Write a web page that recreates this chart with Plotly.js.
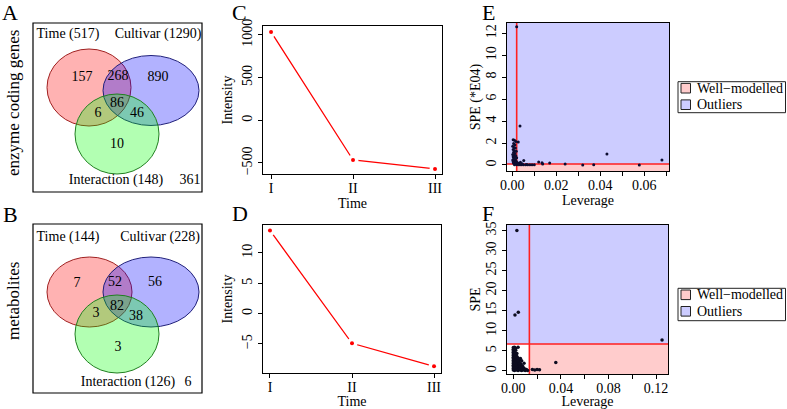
<!DOCTYPE html>
<html><head><meta charset="utf-8">
<script src="https://cdn.plot.ly/plotly-3.0.1.min.js"></script>
<style>html,body{margin:0;padding:0;background:#fff}#chart{width:787px;height:409px}</style>
</head><body><div id="chart"></div>
<script>
// ================= DATA =================
const setNames = ['Time', 'Cultivar', 'Interaction'];
// region order: Time only, Cultivar only, Interaction only, T∩C, T∩I, C∩I, T∩C∩I
const genesSetSizes = [517, 1290, 148];
const genesRegionCounts = [157, 890, 10, 268, 6, 46, 86];
const genesOutside = 361;
const metabSetSizes = [144, 228, 126];
const metabRegionCounts = [7, 56, 3, 52, 3, 38, 82];
const metabOutside = 6;
const rowLabels = ['enzyme coding genes', 'metabolites'];
const panelLetters = ['A', 'B', 'C', 'D', 'E', 'F'];

const timeLabels = ['I', 'II', 'III'];
const genesIntensity = [1035, -465, -570];
const metabIntensity = [13.7, -4.9, -8.7];
const intensityTicksC = [-500, 0, 500, 1000];
const intensityTicksD = [-5, 0, 5, 10];

const legendLabels = ['Well\u2212modelled', 'Outliers'];
const genesLevThreshold = 0.002;
const genesSpeThreshold = 0.09;
const metabLevThreshold = 0.0135;
const metabSpeThreshold = 6.7;

const genesLevTicks = [0, 0.01, 0.02, 0.03, 0.04, 0.05, 0.06, 0.07];
const genesLevTickText = ['0.00', '', '0.02', '', '0.04', '', '0.06', ''];
const genesSpeTicks = [0, 2, 4, 6, 8, 10, 12];
const metabLevTicks = [0, 0.02, 0.04, 0.06, 0.08, 0.10, 0.12];
const metabLevTickText = ['0.00', '', '0.04', '', '0.08', '', '0.12'];
const metabSpeTicks = [0, 5, 10, 15, 20, 25, 30, 35];

const genesLeverage = [0.0004,0.0010,0.0016,0.0006,0.0012,0.0002,0.0008,0.0014,0.0004,0.0010,
  0.0018,0.0006,0.0012,0.0002,0.0008,0.0016,0.0004,0.0010,0.0020,0.0006,
  0.0014,0.0002,0.0008,0.0018,0.0004,0.0012,0.0024,0.0006,0.0016,0.0030,
  0.0027,0.0035,0.0020,
  0.0010,0.0020,0.0030,0.0040,0.0050,0.0060,0.0070,0.0080,0.0090,0.0100,
  0.0037,0.0045,0.0052,0.0065,
  0.0120,0.0135,0.0138,0.0170,0.0240,0.0320,0.0370,0.0430,0.0577,0.0680];
const genesSPE = [2.30,2.25,2.15,1.95,1.85,1.70,1.60,1.55,1.40,1.30,
  1.25,1.15,1.05,0.95,0.90,0.85,0.75,0.70,0.65,0.55,
  0.50,0.45,0.40,0.35,0.30,0.25,0.20,0.15,0.12,0.10,
  2.10,3.55,12.60,
  0.02,0.01,0.03,0.02,0.01,0.02,0.01,0.02,0.01,0.02,
  0.25,0.10,0.40,0.05,
  0.28,0.20,0.08,0.18,0.08,0.00,0.02,1.00,0.00,0.45];

const metabLeverage = [
  0,0,0,0,0,0,0,0,0,0,0,0,0,0,0,
  0.001,0.001,0.001,0.001,0.001,0.001,0.001,0.001,0.001,0.001,0.001,0.001,0.001,0.001,0.001,
  0.002,0.002,0.002,0.002,0.002,0.002,0.002,0.002,0.002,0.002,0.002,0.002,0.002,
  0.003,0.003,0.003,0.003,0.003,0.003,0.003,0.003,0.003,0.003,
  0.004,0.004,0.004,0.004,0.004,0.004,0.004,0.004,0.004,
  0.005,0.005,0.005,0.005,0.005,0.005,
  0.006,0.006,0.006,0.006,0.006,0.006,
  0.007,0.007,0.007,0.007,0.007,
  0.008,0.008,0.008,
  0.009,0.009,0.009,
  0.010,0.010,
  0.011,
  0.012,
  0.016,0.018,0.020,0.022,0.0357,0.0014,0.0042,0.003,0.125];
const metabSPE = [
  0.2,0.6,1.0,1.4,1.8,2.2,2.6,3.0,3.4,3.8,4.2,4.6,5.0,5.4,5.8,
  0.1,0.5,0.9,1.3,1.7,2.1,2.5,2.9,3.3,3.7,4.1,4.5,4.9,5.3,5.9,
  0.3,0.7,1.1,1.5,1.9,2.3,2.7,3.1,3.5,4.0,4.4,5.1,5.6,
  0.2,0.6,1.0,1.4,1.8,2.2,2.6,3.0,3.6,4.3,
  0.1,0.5,0.9,1.3,1.7,2.1,2.5,3.2,5.9,
  0.3,0.7,1.1,1.5,1.9,2.6,
  0.2,0.6,1.0,1.4,1.8,3.1,
  0.1,0.5,0.9,1.3,2.5,
  0.3,0.7,1.1,
  0.2,0.6,1.9,
  0.1,0.4,
  0.3,
  0.1,
  0.3,0.2,0.3,0.25,2.1,13.9,14.6,35.0,7.7];

// ================= LAYOUT HELPERS =================
const W = 787, H = 409;
const FONT = "'Liberation Serif', 'Times New Roman', serif";
const px = x => x / W;
const py = y => 1 - y / H;
const timeX = timeLabels.map((_, i) => i + 1);

// Venn geometry (pixel space): circles [cx, cy, rx, ry] and text anchors
const vennGeom = [
  { box: [33, 23, 202, 192],
    circles: [[89, 87.5, 42, 38.5], [151, 90.5, 48, 35], [117, 134, 42, 40]],
    countPos: [[82, 77], [158, 77], [117, 144], [118, 76], [98, 113], [137, 113], [117, 103]],
    labelPos: [[68, 34], [158, 34], [116, 180]], outsidePos: [190, 180] },
  { box: [33, 224, 202, 393],
    circles: [[89.5, 292, 42.5, 35], [151, 292, 48, 35], [117, 334, 42, 39]],
    countPos: [[77, 283], [155, 282], [118, 347], [115, 282], [96, 313], [136, 316], [117, 306]],
    labelPos: [[68, 237], [160, 237], [128, 382]], outsidePos: [188, 382] }
];
const vennFill = ['rgba(255,0,0,0.3)', 'rgba(0,0,255,0.3)', 'rgba(0,255,0,0.3)'];
const vennEdge = ['#a02020', '#20207a', '#208020'];
const vennData = [
  { sizes: genesSetSizes, counts: genesRegionCounts, outside: genesOutside },
  { sizes: metabSetSizes, counts: metabRegionCounts, outside: metabOutside }
];

const traces = [];
const shapes = [];
const annotations = [];

// ---------- Venn panels ----------
vennData.forEach((vd, k) => {
  const g = vennGeom[k];
  g.circles.forEach((c, i) => {
    shapes.push({ type: 'circle', xref: 'x5', yref: 'y5', layer: 'below',
      x0: c[0] - c[2], x1: c[0] + c[2], y0: c[1] - c[3], y1: c[1] + c[3],
      fillcolor: vennFill[i], line: { color: vennEdge[i], width: 1 } });
  });
  shapes.push({ type: 'rect', xref: 'x5', yref: 'y5', x0: g.box[0], x1: g.box[2], y0: g.box[1], y1: g.box[3],
    line: { color: 'black', width: 1.2 }, fillcolor: 'rgba(0,0,0,0)' });
  const labels = setNames.map((n, i) => n + ' (' + vd.sizes[i] + ')');
  traces.push({ type: 'scatter', mode: 'text', xaxis: 'x5', yaxis: 'y5', hoverinfo: 'skip', showlegend: false,
    x: g.countPos.map(p => p[0]).concat(g.labelPos.map(p => p[0]), [g.outsidePos[0]]),
    y: g.countPos.map(p => p[1]).concat(g.labelPos.map(p => p[1]), [g.outsidePos[1]]),
    text: vd.counts.map(String).concat(labels, [String(vd.outside)]),
    textfont: { family: FONT, size: 14, color: 'black' } });
});
rowLabels.forEach((t, k) => {
  annotations.push({ xref: 'paper', yref: 'paper', x: px(13), y: py(k === 0 ? 103 : 301),
    xanchor: 'center', yanchor: 'middle',
    text: t, showarrow: false, textangle: -90, font: { family: FONT, size: 17, color: 'black' } });
});

// ---------- Intensity panels ----------
[[genesIntensity, 'x', 'y'], [metabIntensity, 'x2', 'y2']].forEach(([vals, xa, ya]) => {
  traces.push({ type: 'scatter', mode: 'lines', x: timeX, y: vals, xaxis: xa, yaxis: ya,
    line: { color: 'red', width: 1.3 }, hoverinfo: 'skip', showlegend: false });
  traces.push({ type: 'scatter', mode: 'markers', x: timeX, y: vals, xaxis: xa, yaxis: ya,
    marker: { color: 'white', size: 11 }, hoverinfo: 'skip', showlegend: false });
  traces.push({ type: 'scatter', mode: 'markers', x: timeX, y: vals, xaxis: xa, yaxis: ya,
    marker: { color: 'red', size: 4 }, showlegend: false });
});

// ---------- SPE / leverage panels ----------
const regionPink = '#ffcccc', regionBlue = '#ccccff';
function diagShapes(xa, ya, xr, yr, levT, speT) {
  shapes.push({ type: 'rect', xref: xa, yref: ya, layer: 'below', x0: xr[0], x1: xr[1], y0: speT, y1: yr[1],
    fillcolor: regionBlue, line: { width: 0 } });
  shapes.push({ type: 'rect', xref: xa, yref: ya, layer: 'below', x0: levT, x1: xr[1], y0: yr[0], y1: speT,
    fillcolor: regionPink, line: { width: 0 } });
  shapes.push({ type: 'line', xref: xa, yref: ya, layer: 'below', x0: levT, x1: levT, y0: yr[0], y1: yr[1],
    line: { color: '#ff2020', width: 1.6 } });
  shapes.push({ type: 'line', xref: xa, yref: ya, layer: 'below', x0: xr[0], x1: xr[1], y0: speT, y1: speT,
    line: { color: '#ff2020', width: 1.6 } });
}
const rangeE = { x: [-0.0024, 0.0712], y: [-0.55, 12.94] };
const rangeF = { x: [-0.0053, 0.130], y: [-0.8, 36.4] };
diagShapes('x3', 'y3', rangeE.x, rangeE.y, genesLevThreshold, genesSpeThreshold);
diagShapes('x4', 'y4', rangeF.x, rangeF.y, metabLevThreshold, metabSpeThreshold);
traces.push({ type: 'scatter', mode: 'markers', x: genesLeverage, y: genesSPE, xaxis: 'x3', yaxis: 'y3',
  marker: { color: '#0c0c30', size: 3 }, showlegend: false });
traces.push({ type: 'scatter', mode: 'markers', x: metabLeverage, y: metabSPE, xaxis: 'x4', yaxis: 'y4',
  marker: { color: '#0c0c20', size: 3.5 }, showlegend: false });

// manual legends (box, swatches, labels)
[[81.7, 112.7], [288.3, 320.7]].forEach(([top, bot]) => {
  shapes.push({ type: 'rect', xref: 'paper', yref: 'paper', x0: px(678), x1: px(785.5), y0: py(bot), y1: py(top),
    fillcolor: 'white', line: { color: '#222', width: 1 } });
  const rowY = [top + 6.5, top + 23];
  [regionPink, regionBlue].forEach((c, i) => {
    shapes.push({ type: 'rect', xref: 'paper', yref: 'paper', x0: px(681), x1: px(690.5),
      y0: py(rowY[i] + 4.8), y1: py(rowY[i] - 4.8), fillcolor: c, line: { color: '#222', width: 1 } });
    annotations.push({ xref: 'paper', yref: 'paper', x: px(695), y: py(rowY[i]), xanchor: 'left', yanchor: 'middle',
      text: legendLabels[i], showarrow: false, font: { family: FONT, size: 14, color: 'black' } });
  });
});

// panel letters
[[10, 13], [10, 214], [239, 12], [240, 213], [488, 12], [488, 213]].forEach((p, i) => {
  annotations.push({ xref: 'paper', yref: 'paper', x: px(p[0]), y: py(p[1]), xanchor: 'center', yanchor: 'middle',
    text: panelLetters[i], showarrow: false, font: { family: FONT, size: 22, color: 'black' } });
});

const tickFont = { family: FONT, size: 14, color: 'black' };
const titleFont = { family: FONT, size: 14, color: 'black' };
function ax(extra) {
  return Object.assign({ showgrid: false, zeroline: false, showline: true, mirror: true, linecolor: 'black',
    linewidth: 1.2, ticks: 'outside', ticklen: 4, tickcolor: 'black', tickwidth: 1, tickfont: tickFont,
    fixedrange: true }, extra);
}
const xStd = { ticklabelstandoff: -3 };

const layout = {
  width: W, height: H, margin: { l: 0, r: 0, t: 0, b: 0 },
  paper_bgcolor: 'white', plot_bgcolor: 'rgba(0,0,0,0)', showlegend: false,
  font: { family: FONT, color: 'black' },
  xaxis: ax(Object.assign({ domain: [px(263), px(442)], anchor: 'y', range: [0.902, 3.085], tickvals: timeX, ticktext: timeLabels,
    title: { text: 'Time', font: titleFont, standoff: 0 } }, xStd)),
  yaxis: ax({ domain: [py(174), py(26)], anchor: 'x', range: [-629, 1105], tickvals: intensityTicksC, tickangle: -90,
    title: { text: 'Intensity', font: titleFont, standoff: 4 } }),
  xaxis2: ax(Object.assign({ domain: [px(263), px(441)], anchor: 'y2', range: [0.915, 3.085], tickvals: timeX, ticktext: timeLabels,
    title: { text: 'Time', font: titleFont, standoff: 0 } }, xStd)),
  yaxis2: ax({ domain: [py(373), py(225)], anchor: 'x2', range: [-9.8, 14.6], tickvals: intensityTicksD, tickangle: -90,
    title: { text: 'Intensity', font: titleFont, standoff: 4 } }),
  xaxis3: ax(Object.assign({ domain: [px(507), px(669)], anchor: 'y3', range: rangeE.x, tickvals: genesLevTicks, ticktext: genesLevTickText,
    title: { text: 'Leverage', font: titleFont, standoff: 0 } }, xStd)),
  yaxis3: ax({ domain: [py(171), py(23)], anchor: 'x3', range: rangeE.y, tickvals: genesSpeTicks, tickangle: -90,
    title: { text: 'SPE (*E04)', font: titleFont, standoff: 0 } }),
  xaxis4: ax(Object.assign({ domain: [px(507), px(668)], anchor: 'y4', range: rangeF.x, tickvals: metabLevTicks, ticktext: metabLevTickText,
    title: { text: 'Leverage', font: titleFont, standoff: 0 } }, xStd)),
  yaxis4: ax({ domain: [py(374), py(225)], anchor: 'x4', range: rangeF.y, tickvals: metabSpeTicks, tickangle: -90,
    title: { text: 'SPE', font: titleFont, standoff: 0 } }),
  xaxis5: { domain: [0, 1], anchor: 'y5', range: [0, W], visible: false, fixedrange: true },
  yaxis5: { domain: [0, 1], anchor: 'x5', range: [H, 0], visible: false, fixedrange: true },
  shapes: shapes,
  annotations: annotations
};

Plotly.newPlot('chart', traces, layout, { displayModeBar: false, staticPlot: true });
</script>
</body></html>
